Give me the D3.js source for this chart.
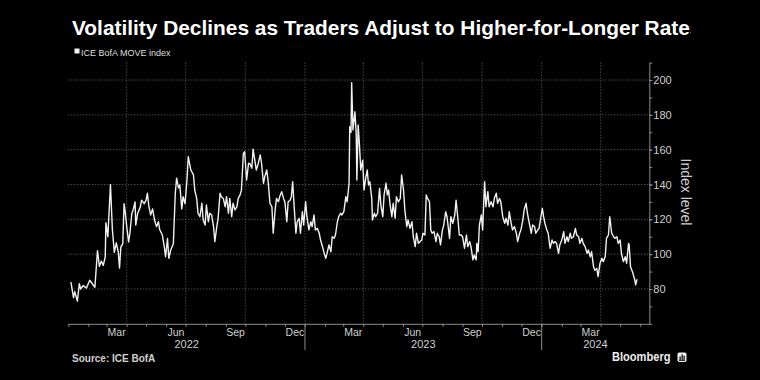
<!DOCTYPE html>
<html><head><meta charset="utf-8">
<script src="https://cdn.jsdelivr.net/npm/d3@7"></script>
<style>html,body{margin:0;padding:0;background:#000;}svg{display:block;}</style>
</head><body>
<svg id="chart" width="760" height="380"></svg>
<script>
const title = "Volatility Declines as Traders Adjust to Higher-for-Longer Rates";
const seriesName = "ICE BofA MOVE index";
const yAxisTitle = "Index level";
const source = "Source: ICE BofA";
const yTicks = [80, 100, 120, 140, 160, 180, 200];
const yMinorTicks = [60, 70, 80, 90, 100, 110, 120, 130, 140, 150, 160, 170, 180, 190, 200, 210];
const yDomain = [60, 210];
const xDomain = ["2022-01-01", "2024-06-15"];
const monthTicks = ["2022-03-01","2022-06-01","2022-09-01","2022-12-01","2023-03-01","2023-06-01","2023-09-01","2023-12-01","2024-03-01"];
const yearLabels = ["2022", "2023", "2024"];

const dates = [
"2022-01-05","2022-01-09","2022-01-11","2022-01-15","2022-01-18","2022-01-20","2022-01-24","2022-01-29",
"2022-02-03","2022-02-09","2022-02-11","2022-02-15","2022-02-18","2022-02-21","2022-02-24","2022-02-27","2022-02-28",
"2022-03-03","2022-03-07","2022-03-10","2022-03-13","2022-03-16","2022-03-19","2022-03-21","2022-03-23","2022-03-26","2022-03-28","2022-03-30",
"2022-04-01","2022-04-04","2022-04-06","2022-04-09","2022-04-11","2022-04-14","2022-04-15","2022-04-18","2022-04-22","2022-04-24","2022-04-28",
"2022-05-01","2022-05-03","2022-05-05","2022-05-08","2022-05-11","2022-05-14","2022-05-17","2022-05-20","2022-05-22","2022-05-26","2022-05-29","2022-05-31",
"2022-06-03","2022-06-05","2022-06-08","2022-06-12","2022-06-15","2022-06-17","2022-06-20","2022-06-22","2022-06-25","2022-06-27","2022-06-30",
"2022-07-03","2022-07-05","2022-07-09","2022-07-13","2022-07-15","2022-07-18","2022-07-20","2022-07-23","2022-07-26","2022-07-28","2022-07-31",
"2022-08-02","2022-08-05","2022-08-07","2022-08-10","2022-08-13","2022-08-15","2022-08-18","2022-08-20","2022-08-23","2022-08-25","2022-08-28","2022-08-31",
"2022-09-02","2022-09-05","2022-09-07","2022-09-10","2022-09-12","2022-09-15","2022-09-18","2022-09-20","2022-09-23","2022-09-25","2022-09-28","2022-09-30",
"2022-10-03","2022-10-06","2022-10-08","2022-10-11","2022-10-13","2022-10-16","2022-10-18","2022-10-21","2022-10-24","2022-10-26","2022-10-29","2022-10-31",
"2022-11-03","2022-11-05","2022-11-08","2022-11-11","2022-11-13","2022-11-16","2022-11-18","2022-11-21","2022-11-23","2022-11-26","2022-11-29",
"2022-12-01","2022-12-04","2022-12-06","2022-12-09","2022-12-11","2022-12-13","2022-12-15","2022-12-18","2022-12-20","2022-12-23","2022-12-25","2022-12-28","2022-12-30",
"2023-01-02","2023-01-04","2023-01-07","2023-01-10","2023-01-12","2023-01-15","2023-01-17","2023-01-20","2023-01-23","2023-01-25","2023-01-28","2023-01-30",
"2023-02-02","2023-02-04","2023-02-07","2023-02-10","2023-02-12","2023-02-15","2023-02-17","2023-02-20","2023-02-22","2023-02-25","2023-02-27",
"2023-03-02","2023-03-05","2023-03-07","2023-03-10","2023-03-11","2023-03-13","2023-03-14","2023-03-16","2023-03-19","2023-03-21","2023-03-22","2023-03-24","2023-03-26","2023-03-28","2023-03-31",
"2023-04-02","2023-04-05","2023-04-07","2023-04-09","2023-04-11","2023-04-14","2023-04-15","2023-04-18","2023-04-20","2023-04-23","2023-04-26","2023-04-28",
"2023-05-01","2023-05-03","2023-05-06","2023-05-08","2023-05-10","2023-05-12","2023-05-15","2023-05-17","2023-05-20","2023-05-22","2023-05-25","2023-05-28","2023-05-30",
"2023-06-02","2023-06-04","2023-06-07","2023-06-09","2023-06-12","2023-06-15","2023-06-17","2023-06-20","2023-06-22","2023-06-25","2023-06-30",
"2023-07-02","2023-07-05","2023-07-07","2023-07-09","2023-07-12","2023-07-14","2023-07-16","2023-07-19","2023-07-22","2023-07-24","2023-07-27","2023-07-29",
"2023-08-01","2023-08-03","2023-08-06","2023-08-08","2023-08-12","2023-08-14","2023-08-17","2023-08-20","2023-08-22","2023-08-25","2023-08-27","2023-08-30",
"2023-09-01","2023-09-04","2023-09-07","2023-09-09","2023-09-12","2023-09-14","2023-09-17","2023-09-19","2023-09-22","2023-09-23","2023-09-25","2023-09-27","2023-09-30",
"2023-10-02","2023-10-05","2023-10-07","2023-10-10","2023-10-12","2023-10-15","2023-10-18","2023-10-20","2023-10-23","2023-10-25","2023-10-28","2023-10-30",
"2023-11-02","2023-11-05","2023-11-07","2023-11-10","2023-11-12","2023-11-15","2023-11-17","2023-11-20","2023-11-23","2023-11-25","2023-11-28","2023-11-30",
"2023-12-03","2023-12-05","2023-12-08","2023-12-10","2023-12-13","2023-12-16","2023-12-18","2023-12-21","2023-12-23","2023-12-26","2023-12-28",
"2024-01-02","2024-01-04","2024-01-06","2024-01-09","2024-01-11","2024-01-14","2024-01-17","2024-01-19","2024-01-22","2024-01-24","2024-01-27","2024-01-29",
"2024-02-01","2024-02-04","2024-02-06","2024-02-09","2024-02-11","2024-02-14","2024-02-16","2024-02-19","2024-02-22","2024-02-24","2024-02-27","2024-02-29",
"2024-03-03","2024-03-05","2024-03-08","2024-03-11","2024-03-13","2024-03-16","2024-03-18","2024-03-21","2024-03-23","2024-03-26","2024-03-28","2024-03-31",
"2024-04-03","2024-04-05","2024-04-08","2024-04-10","2024-04-13","2024-04-15","2024-04-18","2024-04-21","2024-04-23","2024-04-26","2024-04-28",
"2024-05-01","2024-05-03","2024-05-06","2024-05-09","2024-05-11","2024-05-14","2024-05-15","2024-05-17","2024-05-20","2024-05-23","2024-05-25","2024-05-27"
];

const values = [
84,75,78.5,73,83,80,82,80.5,
85,82,81,102,93,96,93.5,98.5,118,
110,140,114,101,106.5,101.5,92,104,106,129,123.5,
116,107,112,123.5,125.4,130,116.7,123.5,127,131,129,
131,135,128,122.5,126,119.6,115.8,118.6,114,111,104.3,98.5,
109,97.6,102.4,106,135,143.6,138,139.7,126,133,129,
142.6,156,148.3,145.5,136.8,132,123.5,121.5,129.2,119.6,116.7,
128.2,118.6,123.5,122.5,115.8,107.2,115.8,120.6,135,133,132,127.2,
133,123.5,132,121.5,129.2,125.4,127.2,132,134,136.8,157.9,158.8,
142.6,152.2,152,149.3,160.3,153,148.3,152.2,157,152.2,140.7,144.5,
148.3,142.6,129.2,127.2,112,125.4,132,130.1,133,135.9,132,
130,118.6,130,131,133,141.6,129.2,112,118.6,120.6,112,124.4,116.7,
130.1,121.5,113.9,118.6,115.8,122.5,113.9,114.8,112,108.1,104.3,101.4,
97.6,100.5,105.3,101.4,110,109.1,111,118.6,121.5,123.5,122.5,
124.4,133,130,140.7,173.2,170,198.5,171.3,181.8,169.4,142.6,174.2,162.7,148.3,154,
136.8,144.5,148.3,139.7,141.6,132,119.6,123.5,121.5,123.5,137.8,128.2,
121.5,134,140.7,134,136.8,129.2,121.5,129.2,120.6,133,130,132,145.5,
136.8,125.4,115.8,119.6,114.8,118.6,110,104.3,112,106.2,108.1,
112,111,134,132,130,113.9,112,113,107.2,112,110,105.3,
113.9,116.7,124.4,121.5,109.1,121.5,117.7,122.5,131,119.6,111,111,
110,103.4,111,104.3,107.2,104.3,96.7,99.5,96.7,106.2,101.4,116.7,122.5,
113.9,141.6,127.2,135.9,127.2,130.1,127.2,132,135,129.2,132,130.1,
121.5,117.7,120.6,116.7,124.4,117.7,113.9,115.8,112,107.2,112,113.9,
119.6,125.4,129.2,123.5,117.7,112,116.7,115.8,112,113.9,114.8,
126.3,121.5,117.7,113.9,112,103.4,108.1,106.2,107.2,106.2,100.5,105.3,
108.1,112.9,106.2,110,107.2,112,109.1,110,114.8,111,110,106.2,
109.1,106.2,104.3,100.5,102.4,98.5,101.4,92.8,90.8,91.8,87.1,94.8,
97.6,95.7,98.5,109.1,111,121.5,112,110,109.1,110,106.2,
108.1,100.5,95.7,98.5,94.8,106.2,105.3,92.8,89.9,86.1,82.3,85.6
];

const W = 760, H = 380;
const FONT = "'Liberation Sans', Arial, sans-serif";
const parse = d3.timeParse("%Y-%m-%d");
const data = dates.map((d, i) => ({ date: parse(d), value: values[i] }));

const svg = d3.select("#chart");
svg.append("rect").attr("width", W).attr("height", H).attr("fill", "#000");

const plot = { left: 68.3, right: 649.3, top: 62.6, bottom: 323.8 };
const x = d3.scaleTime().domain(xDomain.map(parse)).range([plot.left, plot.right]);
const y = d3.scaleLinear().domain(yDomain).range([plot.bottom, plot.top]);

// horizontal gridlines
svg.append("g").selectAll("line").data(yTicks).join("line")
  .attr("x1", plot.left).attr("x2", plot.right)
  .attr("y1", d => y(d)).attr("y2", d => y(d))
  .attr("stroke", "#6a6a6a").attr("stroke-width", 1).attr("stroke-dasharray", "1,2");

// vertical quarter gridlines
const [d0, d1] = x.domain();
const quarters = d3.timeMonth.every(3).range(d3.timeDay.offset(d0, 1), d1);
svg.append("g").selectAll("line").data(quarters).join("line")
  .attr("x1", d => x(d)).attr("x2", d => x(d))
  .attr("y1", plot.top).attr("y2", plot.bottom)
  .attr("stroke", "#6a6a6a").attr("stroke-width", 1).attr("stroke-dasharray", "1,2");

// x axis
const xAxis = svg.append("g").attr("transform", `translate(0,${plot.bottom})`)
  .call(d3.axisBottom(x).ticks(d3.timeMonth.every(1)).tickSize(3).tickSizeOuter(0).tickFormat(""));
xAxis.select(".domain").attr("stroke", "#8c8c8c");
xAxis.selectAll(".tick line").attr("stroke", "#8c8c8c");

// month labels centred on the month
const fmtMonth = d3.timeFormat("%b");
svg.append("g").selectAll("text").data(monthTicks.map(parse)).join("text")
  .attr("x", d => (x(d) + x(d3.timeMonth.offset(d, 1))) / 2)
  .attr("y", 335.5)
  .attr("text-anchor", "middle")
  .attr("font-family", FONT).attr("font-size", 10.5).attr("fill", "#cfcfcf")
  .text(d => fmtMonth(d));

// year labels + dividers
const yearStarts = yearLabels.map(yy => new Date(+yy, 0, 1));
svg.append("g").selectAll("text").data(yearLabels).join("text")
  .attr("x", (yy, i) => {
    const a = Math.max(x(yearStarts[i]), plot.left);
    const b = Math.min(x(new Date(+yy + 1, 0, 1)), plot.right);
    return (a + b) / 2;
  })
  .attr("y", 348)
  .attr("text-anchor", "middle")
  .attr("font-family", FONT).attr("font-size", 11).attr("fill", "#cfcfcf")
  .text(d => d);
svg.append("g").selectAll("line").data(yearStarts.filter(d => x(d) > plot.left + 1)).join("line")
  .attr("x1", d => x(d)).attr("x2", d => x(d))
  .attr("y1", plot.bottom).attr("y2", 350)
  .attr("stroke", "#8c8c8c").attr("stroke-width", 1);

// y axis
const yMinor = svg.append("g").attr("transform", `translate(${plot.right},0)`)
  .call(d3.axisRight(y).tickValues(yMinorTicks).tickSize(3).tickSizeOuter(0).tickFormat(""));
yMinor.select(".domain").attr("stroke", "#8c8c8c");
yMinor.selectAll(".tick line").attr("stroke", "#8c8c8c");
const yMajor = svg.append("g").attr("transform", `translate(${plot.right},0)`)
  .call(d3.axisRight(y).tickValues(yTicks).tickSize(3).tickPadding(1).tickSizeOuter(0));
yMajor.select(".domain").remove();
yMajor.selectAll(".tick line").attr("stroke", "#8c8c8c");
yMajor.selectAll(".tick text").attr("font-family", FONT).attr("font-size", 11).attr("fill", "#cfcfcf");

svg.append("text")
  .attr("transform", "translate(680.5,192) rotate(90)")
  .attr("text-anchor", "middle")
  .attr("font-family", FONT).attr("font-size", 14).attr("fill", "#cfcfcf")
  .text(yAxisTitle);

// series line
const line = d3.line().x(d => x(d.date)).y(d => y(d.value));
svg.append("path").datum(data)
  .attr("d", line)
  .attr("fill", "none").attr("stroke", "#f2f2f2").attr("stroke-width", 1.4)
  .attr("stroke-linejoin", "round");

// title (clipped as in the original)
svg.append("clipPath").attr("id", "titleClip").append("rect")
  .attr("x", 0).attr("y", 0).attr("width", 691).attr("height", 45);
const t = svg.append("text").attr("clip-path", "url(#titleClip)")
  .attr("x", 72).attr("y", 35)
  .attr("font-family", FONT).attr("font-weight", "bold").attr("font-size", 18.5)
  .attr("fill", "#ffffff").text(title);
const subLen = t.node().getSubStringLength(0, title.length - 1);
t.attr("font-size", 18.5 * 618 / subLen);

// legend
svg.append("rect").attr("x", 74.5).attr("y", 48.5).attr("width", 5).attr("height", 5).attr("fill", "#f2f2f2");
svg.append("text").attr("x", 81).attr("y", 55.5)
  .attr("font-family", FONT).attr("font-size", 9).attr("fill", "#dedede").text(seriesName);

// footer
svg.append("text").attr("x", 72).attr("y", 361.5)
  .attr("font-family", FONT).attr("font-weight", "bold").attr("font-size", 10).attr("fill", "#d0d0d0")
  .text(source);
svg.append("text").attr("x", 612).attr("y", 360.8)
  .attr("font-family", FONT).attr("font-weight", 600).attr("font-size", 12)
  .attr("textLength", 58.5).attr("lengthAdjust", "spacingAndGlyphs")
  .attr("fill", "#eeeeee").text("Bloomberg");
const logo = svg.append("g").attr("transform", "translate(677.5,352.5)");
logo.append("rect").attr("width", 9).attr("height", 9.5).attr("rx", 1.8).attr("fill", "#eeeeee");
logo.append("rect").attr("x", 2).attr("y", 4).attr("width", 1.2).attr("height", 3.5).attr("fill", "#000");
logo.append("rect").attr("x", 4).attr("y", 2).attr("width", 1.2).attr("height", 5.5).attr("fill", "#000");
logo.append("rect").attr("x", 6).attr("y", 3.2).attr("width", 1.2).attr("height", 4.3).attr("fill", "#000");
logo.append("rect").attr("x", 1.5).attr("y", 7.5).attr("width", 6).attr("height", 0.8).attr("fill", "#000");
</script>
</body></html>
